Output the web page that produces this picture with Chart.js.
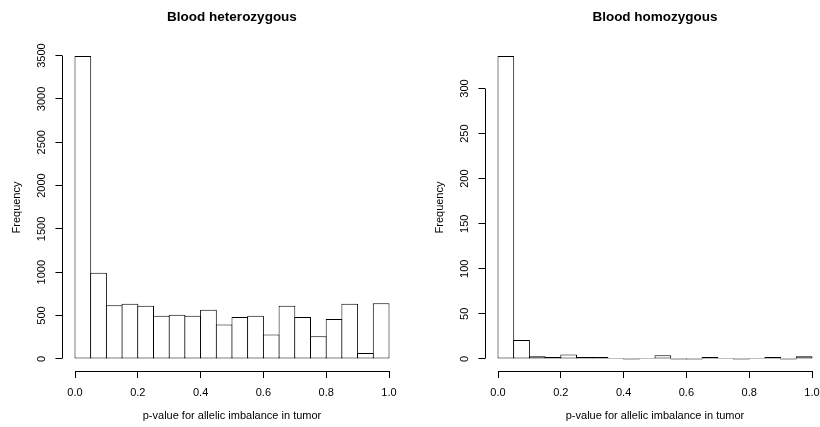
<!DOCTYPE html>
<html><head><meta charset="utf-8">
<script src="https://cdn.jsdelivr.net/npm/chart.js@4.4.0/dist/chart.umd.min.js"></script>
<style>
html,body{margin:0;padding:0;background:#fff;overflow:hidden;width:820px;height:427px;position:relative;}
canvas{position:absolute;top:0;}
#c1{left:0px;}
#c2{left:423px;}
</style></head><body>
<canvas id="c1" width="464" height="427"></canvas>
<canvas id="c2" width="464" height="427"></canvas>
<script>
// ---- data ----
const binCenters = [0.025, 0.075, 0.125, 0.175, 0.225, 0.275, 0.325, 0.375, 0.425, 0.475,
                    0.525, 0.575, 0.625, 0.675, 0.725, 0.775, 0.825, 0.875, 0.925, 0.975];
const heterozygousCounts = [3494, 995, 620, 637, 613, 498, 509, 498, 567, 397,
                            482, 498, 281, 613, 482, 262, 459, 637, 69, 643];
const homozygousCounts = [336, 21, 3, 2, 5, 2, 2, 1, 0, 1,
                          4, 0, 0, 2, 1, 0, 1, 2, 0, 3];
const chartTitles = ['Blood heterozygous', 'Blood homozygous'];
const xAxisLabel = 'p-value for allelic imbalance in tumor';
const yAxisLabel = 'Frequency';
const xTickValues = [0.0, 0.2, 0.4, 0.6, 0.8, 1.0];
const heterozygousYTicks = [0, 500, 1000, 1500, 2000, 2500, 3000, 3500];
const homozygousYTicks = [0, 50, 100, 150, 200, 250, 300];

// ---- styling ----
const FONT = "'Liberation Sans', Arial, Helvetica, sans-serif";
Chart.defaults.font.family = FONT;
Chart.defaults.color = '#000';

function alignPx(p) { return Math.round(p - 0.5) + 0.5; }

const rAxesPlugin = {
  id: 'rAxes',
  afterDraw(chart) {
    const {ctx, chartArea} = chart;
    const x = chart.scales.x, y = chart.scales.y;
    ctx.save();
    ctx.strokeStyle = '#000';
    ctx.lineWidth = 1;
    // x axis line spanning first..last tick
    const xt = x.ticks;
    const yb = alignPx(chartArea.bottom);
    ctx.beginPath();
    ctx.moveTo(alignPx(x.getPixelForValue(xt[0].value)), yb);
    ctx.lineTo(alignPx(x.getPixelForValue(xt[xt.length - 1].value)), yb);
    ctx.stroke();
    // y axis line spanning first..last tick
    const yt = y.ticks;
    const xl = alignPx(chartArea.left);
    ctx.beginPath();
    ctx.moveTo(xl, alignPx(y.getPixelForValue(yt[0].value)));
    ctx.lineTo(xl, alignPx(y.getPixelForValue(yt[yt.length - 1].value)));
    ctx.stroke();
    // rotated y tick labels (R style)
    ctx.fillStyle = '#000';
    ctx.font = '11px ' + FONT;
    ctx.textAlign = 'center';
    ctx.textBaseline = 'middle';
    yt.forEach(t => {
      const py = y.getPixelForValue(t.value);
      ctx.save();
      ctx.translate(chartArea.left - 20, py);
      ctx.rotate(-Math.PI / 2);
      ctx.fillText(String(t.value), 0, 0);
      ctx.restore();
    });
    ctx.restore();
  }
};

function makeHist(canvasId, title, counts, yTicks) {
  const maxCount = Math.max(...counts);
  const data = binCenters.map((c, i) => ({x: c, y: counts[i]}));
  return new Chart(document.getElementById(canvasId), {
    type: 'bar',
    data: {
      datasets: [{
        data: data,
        backgroundColor: '#ffffff',
        borderColor: '#000000',
        borderWidth: 1,
        borderSkipped: false,
        minBarLength: 1,
        barPercentage: 1.0637,
        categoryPercentage: 1.0,
        xAxisID: 'x',
        yAxisID: 'y'
      }]
    },
    options: {
      responsive: false,
      animation: false,
      events: [],
      layout: {padding: 0},
      plugins: {
        legend: {display: false},
        tooltip: {enabled: false},
        title: {
          display: true,
          text: title,
          color: '#000',
          font: {family: FONT, size: 13.5, weight: 'bold', lineHeight: 1.2},
          padding: {top: 9.5, bottom: 18.3}
        }
      },
      scales: {
        x: {
          type: 'linear',
          position: 'bottom',
          offset: false,
          min: -0.04,
          max: 1.04,
          grid: {display: true, drawOnChartArea: false, drawTicks: true, tickLength: 7,
                 tickColor: '#000', tickWidth: 1, offset: false},
          border: {display: false},
          ticks: {autoSkip: false, maxRotation: 0, minRotation: 0,
                  padding: 8, font: {size: 11}, color: '#000',
                  callback: v => Number(v).toFixed(1)},
          afterBuildTicks: s => { s.ticks = xTickValues.map(v => ({value: v})); },
          title: {display: true, text: xAxisLabel, color: '#000', font: {size: 11},
                  padding: {top: 0, bottom: 4}},
          afterFit: s => { s.height = 56; }
        },
        y: {
          type: 'linear',
          position: 'left',
          min: -0.04 * maxCount,
          max: 1.04 * maxCount,
          grid: {display: true, drawOnChartArea: false, drawTicks: true, tickLength: 7,
                 tickColor: '#000', tickWidth: 1},
          border: {display: false},
          ticks: {display: false},
          afterBuildTicks: s => { s.ticks = yTicks.map(v => ({value: v})); },
          title: {display: true, text: yAxisLabel, color: '#000', font: {size: 11},
                  padding: {top: 10, bottom: 0}},
          afterFit: s => { s.width = 62.44; }
        },
        yPad: {
          type: 'linear',
          position: 'right',
          display: true,
          grid: {display: false},
          border: {display: false},
          ticks: {display: false},
          afterFit: s => { s.width = 62.44; }
        }
      }
    },
    plugins: [rAxesPlugin]
  });
}

makeHist('c1', chartTitles[0], heterozygousCounts, heterozygousYTicks);
makeHist('c2', chartTitles[1], homozygousCounts, homozygousYTicks);
</script>
</body></html>
